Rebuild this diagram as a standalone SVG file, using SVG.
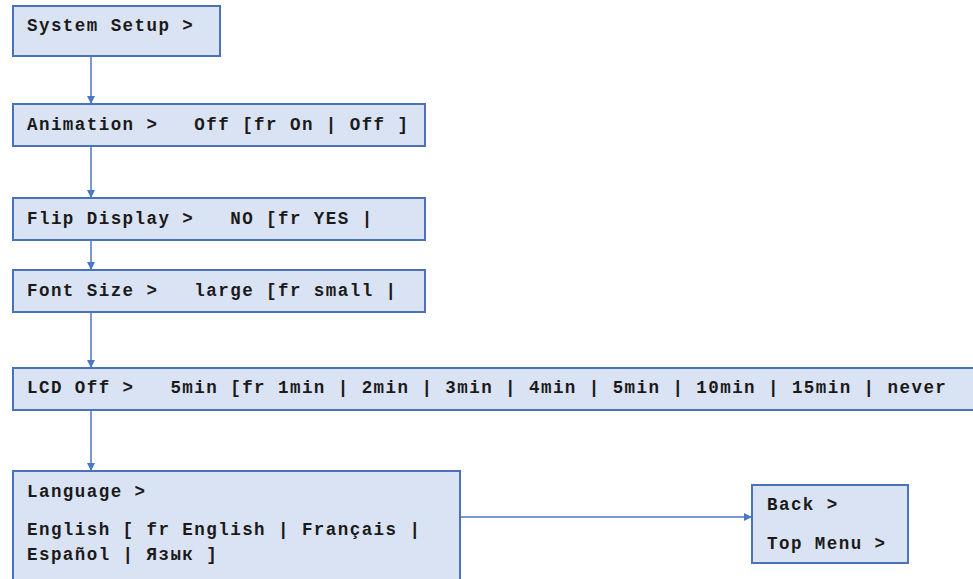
<svg xmlns="http://www.w3.org/2000/svg" width="973" height="579" viewBox="0 0 973 579">
<defs>
<style>
.box{fill:#dae3f3;stroke:#4a72b8;stroke-width:2}
.t{font-family:"Liberation Mono","Courier New",monospace;font-weight:bold;font-size:17.5px;letter-spacing:1.45px;fill:#1a1a1a;white-space:pre}
.c{stroke:#4a78c8;stroke-width:1.5;fill:none}
</style>
<marker id="ah" viewBox="0 0 10 10" refX="10" refY="5" markerWidth="8" markerHeight="8" markerUnits="userSpaceOnUse" orient="auto">
<path d="M0,0 L10,5 L0,10 z" fill="#4a78c8"/>
</marker>
</defs>
<rect width="973" height="579" fill="#ffffff"/>
<g id="connectors">
<line class="c" x1="91" y1="56" x2="91" y2="104" marker-end="url(#ah)"/>
<line class="c" x1="91" y1="146" x2="91" y2="198" marker-end="url(#ah)"/>
<line class="c" x1="91" y1="240" x2="91" y2="270" marker-end="url(#ah)"/>
<line class="c" x1="91" y1="312" x2="91" y2="368" marker-end="url(#ah)"/>
<line class="c" x1="91" y1="410" x2="91" y2="471" marker-end="url(#ah)"/>
<line class="c" x1="460" y1="517" x2="752" y2="517" marker-end="url(#ah)"/>
</g>
<g id="system-setup">
<rect class="box" x="13" y="6" width="207" height="50"/>
<text class="t" x="27" y="31">System Setup &gt;</text>
</g>
<g id="animation">
<rect class="box" x="13" y="104" width="412" height="42"/>
<text class="t" x="27" y="130">Animation &gt;   Off [fr On | Off ]</text>
</g>
<g id="flip-display">
<rect class="box" x="13" y="198" width="412" height="42"/>
<text class="t" x="27" y="224">Flip Display &gt;   NO [fr YES |</text>
</g>
<g id="font-size">
<rect class="box" x="13" y="270" width="412" height="42"/>
<text class="t" x="27" y="296">Font Size &gt;   large [fr small |</text>
</g>
<g id="lcd-off">
<rect class="box" x="13" y="368" width="975" height="42"/>
<text class="t" x="27" y="393">LCD Off &gt;   5min [fr 1min | 2min | 3min | 4min | 5min | 10min | 15min | never</text>
</g>
<g id="language">
<rect class="box" x="13" y="471" width="447" height="130"/>
<text class="t" x="27" y="497">Language &gt;</text>
<text class="t" x="27" y="535">English [ fr English | Français |</text>
<text class="t" x="27" y="560">Español | Язык ]</text>
</g>
<g id="back">
<rect class="box" x="752" y="485" width="156" height="78"/>
<text class="t" x="767" y="510">Back &gt;</text>
<text class="t" x="767" y="549">Top Menu &gt;</text>
</g>
</svg>
